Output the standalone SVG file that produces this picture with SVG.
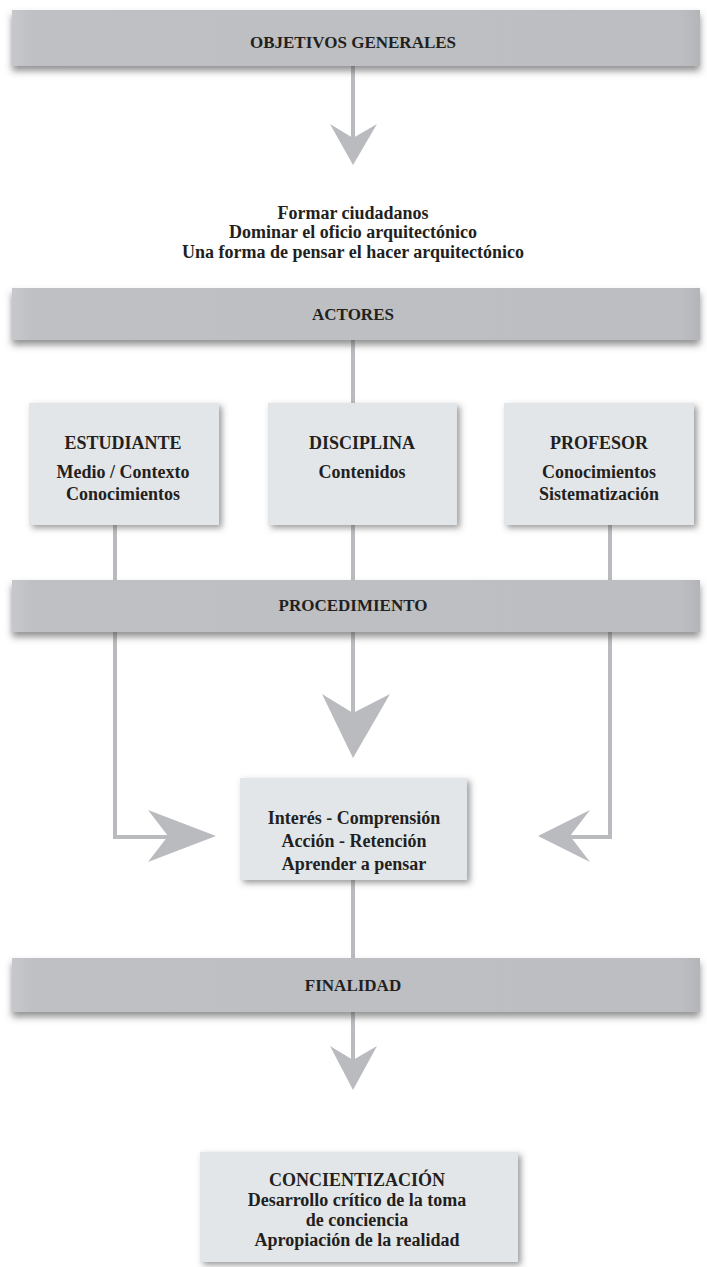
<svg xmlns="http://www.w3.org/2000/svg" width="707" height="1267" viewBox="0 0 707 1267">
<defs>
<style>
.bar{fill:#bcbfc2;}
.box{fill:#e3e6e9;}
.t{font-family:"Liberation Serif","DejaVu Serif",serif;font-weight:bold;fill:#231f20;text-anchor:middle;}
.bt{font-size:17px;}
.nt{font-size:18px;}
.ln{stroke:#b9bbbe;stroke-width:4;fill:none;}
.ah{fill:#b9bbbe;}
</style>
<filter id="sbar" x="-5%" y="-30%" width="110%" height="180%">
<feDropShadow dx="0" dy="5" stdDeviation="3.5" flood-color="#4a4a4a" flood-opacity="0.6"/>
</filter>
<filter id="sbox" x="-10%" y="-10%" width="125%" height="130%">
<feDropShadow dx="3" dy="3" stdDeviation="3" flood-color="#4a4a4a" flood-opacity="0.55"/>
</filter>
<linearGradient id="gbar" x1="0" y1="0" x2="1" y2="0">
<stop offset="0" stop-color="#c6c8cb"/>
<stop offset="0.03" stop-color="#bec0c3"/>
<stop offset="0.97" stop-color="#bcbec1"/>
<stop offset="1" stop-color="#b3b5b8"/>
</linearGradient>
</defs>
<rect width="707" height="1267" fill="#ffffff"/>

<g id="connectors">
<line class="ln" x1="353" y1="66" x2="353" y2="140"/>
<polygon class="ah" points="330,124 353,138 377,124 353,165"/>
<line class="ln" x1="353" y1="340" x2="353" y2="404"/>
<line class="ln" x1="115" y1="525" x2="115" y2="580"/>
<line class="ln" x1="353" y1="525" x2="353" y2="580"/>
<line class="ln" x1="610" y1="525" x2="610" y2="580"/>
<path class="ln" d="M115 632 V837 H170"/>
<line class="ln" x1="353" y1="632" x2="353" y2="716"/>
<path class="ln" d="M610 632 V837 H560"/>
<polygon class="ah" points="322,694 353,713 390,694 353,758"/>
<polygon class="ah" points="148,810 168,836 148,862 216,836"/>
<polygon class="ah" points="590,810 570,836 590,862 538,836"/>
<line class="ln" x1="353" y1="880" x2="353" y2="958"/>
<line class="ln" x1="353" y1="1012" x2="353" y2="1062"/>
<polygon class="ah" points="330,1046 353,1060 377,1046 353,1090"/>
</g>

<g id="objetivos">
<rect x="12" y="10" width="688" height="56" fill="url(#gbar)" filter="url(#sbar)"/>
<text class="t bt" x="353" y="48">OBJETIVOS GENERALES</text>
</g>

<g id="metas">
<text class="t nt" x="353" y="219">Formar ciudadanos</text>
<text class="t nt" x="353" y="238">Dominar el oficio arquitectónico</text>
<text class="t nt" x="353" y="258">Una forma de pensar el hacer arquitectónico</text>
</g>

<g id="actores">
<rect x="12" y="288" width="688" height="52" fill="url(#gbar)" filter="url(#sbar)"/>
<text class="t bt" x="353" y="320">ACTORES</text>
</g>

<g id="estudiante">
<rect class="box" x="29" y="403" width="190" height="122" filter="url(#sbox)"/>
<text class="t nt" x="123" y="449">ESTUDIANTE</text>
<text class="t nt" x="123" y="478">Medio / Contexto</text>
<text class="t nt" x="123" y="500">Conocimientos</text>
</g>

<g id="disciplina">
<rect class="box" x="268" y="403" width="189" height="122" filter="url(#sbox)"/>
<text class="t nt" x="362" y="449">DISCIPLINA</text>
<text class="t nt" x="362" y="478">Contenidos</text>
</g>

<g id="profesor">
<rect class="box" x="504" y="403" width="190" height="122" filter="url(#sbox)"/>
<text class="t nt" x="599" y="449">PROFESOR</text>
<text class="t nt" x="599" y="478">Conocimientos</text>
<text class="t nt" x="599" y="500">Sistematización</text>
</g>

<g id="procedimiento">
<rect x="12" y="580" width="688" height="52" fill="url(#gbar)" filter="url(#sbar)"/>
<text class="t bt" x="353" y="611">PROCEDIMIENTO</text>
</g>

<g id="proceso">
<rect class="box" x="240" y="778" width="227" height="102" filter="url(#sbox)"/>
<text class="t nt" x="354" y="824">Interés - Comprensión</text>
<text class="t nt" x="354" y="847">Acción - Retención</text>
<text class="t nt" x="354" y="870">Aprender a pensar</text>
</g>

<g id="finalidad">
<rect x="12" y="958" width="688" height="54" fill="url(#gbar)" filter="url(#sbar)"/>
<text class="t bt" x="353" y="991">FINALIDAD</text>
</g>

<g id="concientizacion">
<rect class="box" x="200" y="1152" width="318" height="110" filter="url(#sbox)"/>
<text class="t nt" x="357" y="1186">CONCIENTIZACIÓN</text>
<text class="t nt" x="357" y="1206">Desarrollo crítico de la toma</text>
<text class="t nt" x="357" y="1226">de conciencia</text>
<text class="t nt" x="357" y="1246">Apropiación de la realidad</text>
</g>
</svg>
